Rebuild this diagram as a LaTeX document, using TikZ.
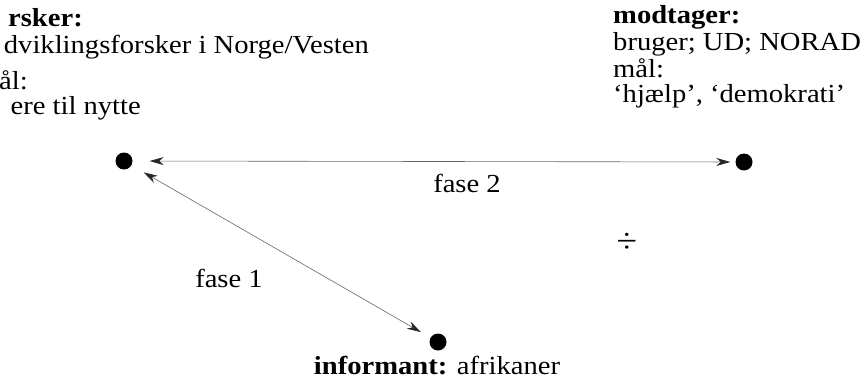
\documentclass[tikz,border=0pt]{standalone}
\usepackage{fontspec}
\setmainfont[FakeStretch=1.1]{Liberation Serif}
\usetikzlibrary{arrows.meta}
\tikzset{
  txt/.style={font=\fontsize{26}{30}\selectfont, inner sep=0pt},
  dot/.style={circle, fill=black, minimum size=17pt, inner sep=0pt},
  conn/.style={draw=black!60, line width=0.6pt, {Stealth[length=14pt,width=8pt,inset=4.5pt,black!85]}-{Stealth[length=14pt,width=8pt,inset=4.5pt,black!85]}}
}
\begin{document}
\begin{tikzpicture}[x=1pt,y=-1pt]
\useasboundingbox (0,0) rectangle (867,385);
% left column
\node[txt, anchor=base east] (l1) at (83,27) {\textbf{rsker:}};
\node[txt, anchor=base east] (l2) at (369,54) {dviklingsforsker i Norge/Vesten};
\node[txt, anchor=base east] (l3) at (28,90) {ål:};
\node[txt, anchor=base east] (l4) at (141,115) {ere til nytte};
% right column
\node[txt, anchor=base west] (r1) at (613,24) {\textbf{modtager:}};
\node[txt, anchor=base west] (r2) at (613,51) {bruger; UD; NORAD};
\node[txt, anchor=base west] (r3) at (613,78) {mål:};
\node[txt, anchor=base west] (r4) at (613,103) {‘hjælp’, ‘demokrati’};
% dots
\node[dot] (A) at (124,161) {};
\node[dot] (B) at (744,162) {};
\node[dot] (C) at (438,342) {};
% connectors
\draw[conn, shorten <=17pt, shorten >=5pt] (A) -- (B);
\draw[conn, shorten <=14pt, shorten >=11pt] (A) -- (C);
% labels
\node[txt, anchor=base] (f2) at (467,192) {fase 2};
\node[txt, anchor=base] (f1) at (229,287) {fase 1};
\node[txt, anchor=base] (inf) at (437,374) {\textbf{informant:} afrikaner};
\node[txt, font=\fontsize{34}{36}\selectfont] (div) at (627,243) {÷};
\end{tikzpicture}
\end{document}
